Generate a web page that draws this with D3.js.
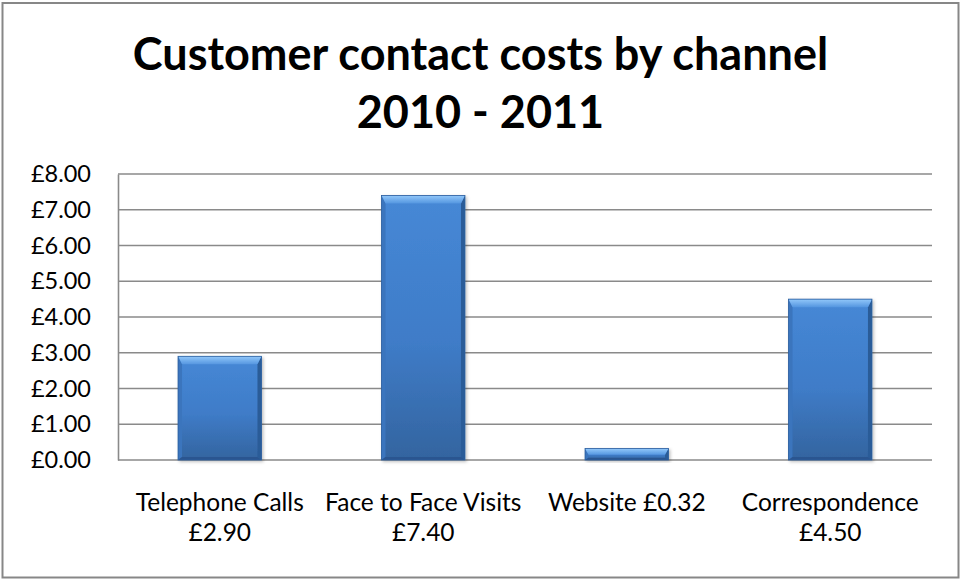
<!DOCTYPE html>
<html>
<head>
<meta charset="utf-8">
<script src="https://cdn.jsdelivr.net/npm/d3@7"></script>
<style>
  html, body { margin: 0; padding: 0; background: #fff; }
  svg { display: block; }
  text { font-family: Lato, "Open Sans", sans-serif; fill: #000; }
</style>
</head>
<body>
<svg id="chart" width="961" height="580"></svg>
<script>
// Chart data
const titleLines = ["Customer contact costs by channel", "2010 - 2011"];
const channels = ["Telephone Calls", "Face to Face Visits", "Website", "Correspondence"];
const costs = [2.90, 7.40, 0.32, 4.50];
const yTicks = [0, 1, 2, 3, 4, 5, 6, 7, 8];

const W = 961, H = 580;
const plot = { left: 118, right: 932, top: 174, bottom: 460 };
const gbp = v => "£" + v.toFixed(2);

const svg = d3.select("#chart");

// Frame
svg.append("rect")
  .attr("x", 2.5).attr("y", 3).attr("width", W - 5).attr("height", H - 5.5)
  .attr("fill", "#fff").attr("stroke", "#878787").attr("stroke-width", 2);

// Title
svg.append("g").selectAll("text").data(titleLines).join("text")
  .attr("x", W / 2)
  .attr("y", (d, i) => 70 + i * 58)
  .attr("text-anchor", "middle")
  .style("font-weight", 700)
  .style("font-size", "45px")
  .text(d => d);

// Scales
const x = d3.scaleBand()
  .domain(channels)
  .range([plot.left, plot.right])
  .paddingInner(0.59)
  .paddingOuter(0.295);

const y = d3.scaleLinear()
  .domain([0, 8])
  .range([plot.bottom, plot.top]);

// Gridlines
svg.append("g").selectAll("line").data(yTicks).join("line")
  .attr("x1", plot.left).attr("x2", plot.right)
  .attr("y1", d => y(d)).attr("y2", d => y(d))
  .attr("stroke", "#8a8a8a").attr("stroke-width", 1.6);

// Y axis (line + labels, no tick marks)
const yAxis = svg.append("g")
  .attr("transform", `translate(${plot.left},0)`)
  .call(d3.axisLeft(y).tickValues(yTicks).tickFormat(gbp).tickSize(0).tickPadding(27));
yAxis.select(".domain").attr("stroke", "#8a8a8a").attr("stroke-width", 1.6);
yAxis.selectAll("text")
  .style("font-family", "Lato, sans-serif")
  .style("font-size", "23.5px")
  .attr("fill", "#000");

// Bar gradients
const defs = svg.append("defs");
const faceGrad = defs.append("linearGradient").attr("id", "face").attr("x1", 0).attr("y1", 0).attr("x2", 0).attr("y2", 1);
faceGrad.append("stop").attr("offset", 0).attr("stop-color", "#4688d6");
faceGrad.append("stop").attr("offset", 0.55).attr("stop-color", "#3f7cc8");
faceGrad.append("stop").attr("offset", 1).attr("stop-color", "#33649f");
const topGrad = defs.append("linearGradient").attr("id", "bevelTop").attr("x1", 0).attr("y1", 0).attr("x2", 0).attr("y2", 1);
topGrad.append("stop").attr("offset", 0).attr("stop-color", "#92c8fa");
topGrad.append("stop").attr("offset", 1).attr("stop-color", "#5596e0");
const shadow = defs.append("filter").attr("id", "barShadow").attr("x", "-10%").attr("y", "-10%").attr("width", "130%").attr("height", "130%");
shadow.append("feDropShadow").attr("dx", 1.5).attr("dy", 1.5).attr("stdDeviation", 1.5)
  .attr("flood-color", "#000").attr("flood-opacity", 0.25);

// Bars with bevelled edges
const bars = svg.append("g").selectAll("g").data(channels.map((c, i) => ({ c, v: costs[i] }))).join("g")
  .attr("filter", "url(#barShadow)");

bars.each(function (d) {
  const g = d3.select(this);
  const x0 = x(d.c), x1 = x0 + x.bandwidth();
  const y0 = y(d.v), y1 = y(0);
  const h = y1 - y0;
  const bt = Math.min(8, h * 0.55);   // top bevel depth
  const bs = Math.min(4, h * 0.3);    // side bevel depth
  const bb = Math.min(3, h * 0.2);    // bottom bevel depth
  const poly = pts => pts.map(p => p.join(",")).join(" ");

  g.append("rect").attr("x", x0).attr("y", y0).attr("width", x1 - x0).attr("height", h)
    .attr("fill", "url(#face)");
  // left edge
  g.append("polygon").attr("points", poly([[x0, y0], [x0 + bs, y0 + bt], [x0 + bs, y1 - bb], [x0, y1]]))
    .attr("fill", "#3a74bd");
  // right edge
  g.append("polygon").attr("points", poly([[x1, y0], [x1 - bs, y0 + bt], [x1 - bs, y1 - bb], [x1, y1]]))
    .attr("fill", "#2c5c98");
  // bottom edge
  g.append("polygon").attr("points", poly([[x0, y1], [x0 + bs, y1 - bb], [x1 - bs, y1 - bb], [x1, y1]]))
    .attr("fill", "#2a5590");
  // top edge
  g.append("polygon").attr("points", poly([[x0, y0], [x1, y0], [x1 - bs, y0 + bt], [x0 + bs, y0 + bt]]))
    .attr("fill", "url(#bevelTop)");
  g.append("rect").attr("x", x0).attr("y", y0).attr("width", x1 - x0).attr("height", h)
    .attr("fill", "none").attr("stroke", "#2d5f9e").attr("stroke-width", 0.8);
});

// Category labels: name and cost, wrapped to the band width
const labelG = svg.append("g");
channels.forEach((c, i) => {
  const cx = x(c) + x.bandwidth() / 2;
  const words = (c + " " + gbp(costs[i])).split(" ");
  const t = labelG.append("text")
    .attr("x", cx)
    .attr("y", 511)
    .attr("text-anchor", "middle")
    .style("font-size", "24.5px");
  let line = [];
  let tspan = t.append("tspan").attr("x", cx).attr("dy", 0);
  words.forEach(w => {
    line.push(w);
    tspan.text(line.join(" "));
    if (tspan.node().getComputedTextLength() > x.step() && line.length > 1) {
      line.pop();
      tspan.text(line.join(" "));
      line = [w];
      tspan = t.append("tspan").attr("x", cx).attr("dy", 30).text(w);
    }
  });
});
</script>
</body>
</html>
